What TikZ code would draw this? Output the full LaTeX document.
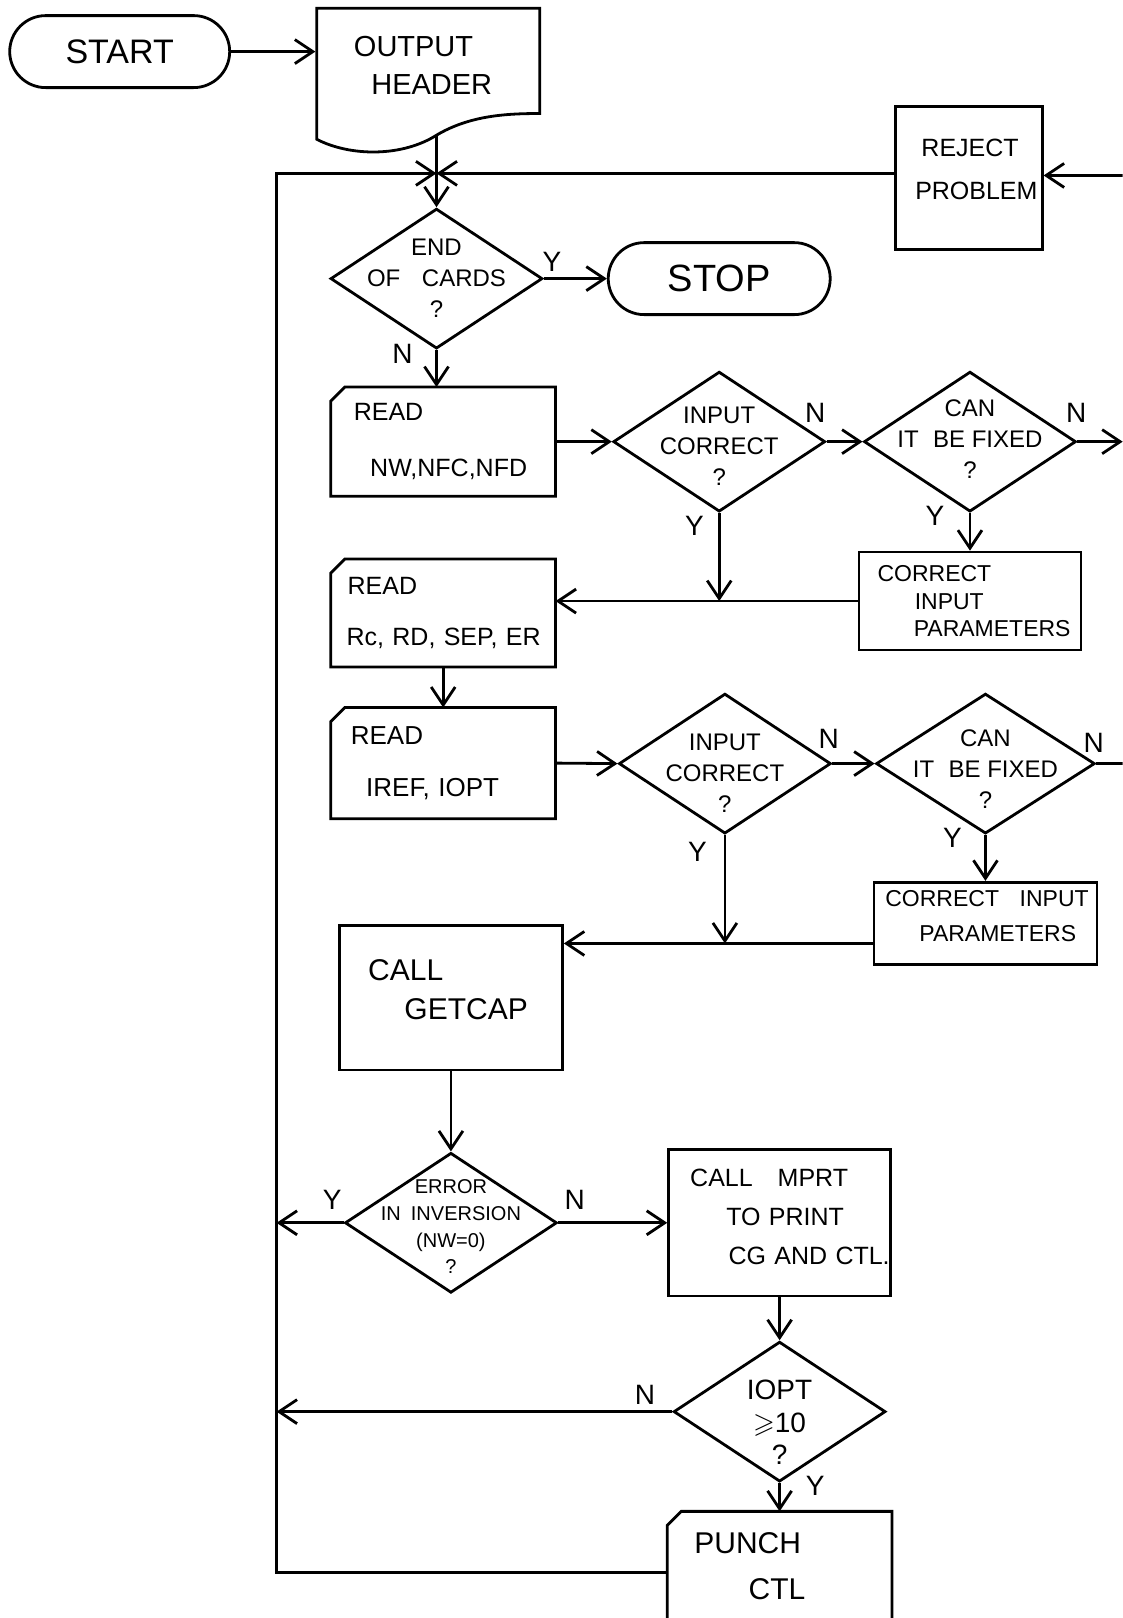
\documentclass[tikz,border=0pt]{standalone}
\usepackage{amssymb}
\usepackage{fontspec}
\setmainfont{Liberation Sans}
\usetikzlibrary{arrows.meta,shapes.geometric,shapes.misc}
\tikzset{>={Straight Barb[length=9pt,width=12pt]}}
\newcommand{\subir}[1]{\rule[-#1]{0pt}{#1}}

\begin{document}
\begin{tikzpicture}[x=0.516pt, y=-0.516pt, line width=1.4pt,
  terminal/.style={draw, rounded rectangle, minimum width=110pt, minimum height=36pt, inner sep=0pt},
  caja/.style={draw, rectangle, text width=#1, minimum width=#1, inner xsep=0pt, align=left},
  caja/.default=111pt,
  tarjeta/.style={caja=#1, draw=none},
  tarjeta/.default=111pt,
  decision/.style={draw, diamond, minimum width=106pt, minimum height=70pt, inner sep=0pt},
  dtexto/.style={align=center, inner sep=0pt, font=\fontsize{12}{15.5}\selectfont},
  etiq/.style={inner sep=0pt, font=\fontsize{14}{14}\selectfont}]

\useasboundingbox (0,0) rectangle (1088,1568);
\clip (0,0) rectangle (1088,1568);

% Inicio y cabecera
\node[terminal, font=\fontsize{17}{17}\selectfont] (inicio) at (116,50) {START};
\node[text width=111.5pt, inner xsep=0pt, align=left, font=\fontsize{14.5}{19}\selectfont]
  (cabecera) at (415,63.5) {\hspace*{18.6pt}OUTPUT\\\hspace*{27.3pt}HEADER};
\draw (307,135) -- (307,8) -- (523,8) -- (523,110)
  .. controls (490,110) and (455,112) .. (423,131)
  .. controls (390,152) and (340,152) .. (307,135) -- cycle;
\coordinate (cabsal) at (423,131);
\coordinate (union) at (423,168);
\coordinate (esqsup) at (268,168);
\coordinate (esqinf) at (268,1524);
\coordinate (der0) at (1088,170);
\coordinate (der1) at (1088,428);
\coordinate (der2) at (1088,740);

% Rechazo
\node[caja=73.3pt, minimum height=71.7pt, font=\fontsize{12.5}{21.7}\selectfont]
  (rechazo) at (939,172.5) {\hspace*{12.9pt}REJECT\\\hspace*{9.8pt}PROBLEM\subir{8.8pt}};

% Fin de tarjetas
\node[decision, label={[dtexto]center:END\\OF\hspace{0.9em}CARDS\\?}] (fin) at (423,270) {};
\node[terminal, minimum width=111pt, font=\fontsize{19}{19}\selectfont] (alto) at (697,270) {STOP};

% Primera lectura
\node[tarjeta, minimum height=53.2pt, font=\fontsize{12.5}{27.9}\selectfont]
  (leer1) at (429.5,428) {\hspace*{10.8pt}READ\\\hspace*{19pt}NW,NFC,NFD};
\node[decision, label={[dtexto, yshift=-2.3pt]center:INPUT\\CORRECT\\?}] (ok1) at (697,428) {};
\node[decision, label={[dtexto, yshift=1.5pt]center:CAN\\IT\hspace{0.6em}BE FIXED\\?}] (fijo1) at (940,428) {};
\node[caja, minimum height=49pt, font=\fontsize{11.5}{13.7}\selectfont]
  (corr1) at (940,582.5) {\hspace*{9.3pt}CORRECT\\\hspace*{27.9pt}INPUT\\\hspace*{27.4pt}PARAMETERS};

% Segunda y tercera lectura
\node[tarjeta, minimum height=52.6pt, font=\fontsize{12.5}{25.8}\selectfont]
  (leer2) at (429.5,594) {\hspace*{7.7pt}READ\\\hspace*{7.2pt}Rc, RD, SEP, ER};
\node[tarjeta, minimum height=54.2pt, font=\fontsize{13}{25.8}\selectfont]
  (leer3) at (429.5,739.5) {\hspace*{9.3pt}READ\\\hspace*{17pt}IREF, IOPT};
\node[decision, label={[dtexto, yshift=-4.6pt]center:INPUT\\CORRECT\\?}] (ok2) at (702.5,740) {};
\node[decision, minimum width=109.4pt, label={[dtexto, yshift=-2.8pt]center:CAN\\IT\hspace{0.6em}BE FIXED\\?}]
  (fijo2) at (955,740) {};
\node[caja=111.5pt, minimum height=41.3pt, font=\fontsize{11.5}{17.5}\selectfont]
  (corr2) at (955,895) {\hspace*{5.7pt}CORRECT\hspace{0.9em}INPUT\\\hspace*{22.7pt}PARAMETERS\subir{7.2pt}};

% Calculo e impresion
\node[caja=111.5pt, minimum height=72.2pt, font=\fontsize{15}{19.6}\selectfont]
  (getcap) at (437,967) {\hspace*{14.4pt}CALL\\\hspace*{32.5pt}GETCAP\subir{8.3pt}};
\node[decision, label={[dtexto, yshift=-2pt, font=\fontsize{10}{13.4}\selectfont]center:ERROR\\IN\hspace{0.5em}INVERSION\\(NW=0)\\?}]
  (error) at (437,1185) {};
\node[caja, minimum height=73.3pt, font=\fontsize{12.5}{19.6}\selectfont]
  (mprt) at (755.5,1185) {\hspace*{10.8pt}CALL\hspace{1em}MPRT\\\hspace*{28.9pt}TO PRINT\\\hspace*{30pt}CG AND CTL.\subir{6.2pt}};
\node[decision, label={[dtexto, yshift=-5.4pt, font=\fontsize{14}{16.3}\selectfont]center:IOPT\\$\geqslant$10\\?}]
  (iopt) at (755.5,1368) {};
\node[tarjeta, minimum height=57.8pt, font=\fontsize{15}{23.2}\selectfont]
  (punch) at (755.5,1522) {\hspace*{12.9pt}PUNCH\\\hspace*{40pt}CTL\subir{4.6pt}};

% Tarjetas con esquina cortada
\foreach \t in {leer1,leer2,leer3,punch}
  \draw ([xshift=7pt]\t.north west) -- (\t.north east) -- (\t.south east)
    -- (\t.south west) -- ([yshift=-7pt]\t.north west) -- cycle;

% Conectores
\draw[->] (inicio.east) -- (inicio.east -| cabecera.west);
\draw (cabsal) -- (union);
\draw[->] (union) -- (fin.north);
\draw[->] (punch.west |- esqinf) -- (esqinf) -- (esqsup) -- (union);
\draw[->] (rechazo.west |- union) -- (union);
\draw[->] (der0) -- (der0 -| rechazo.east);
\draw[->] (fin.east) -- (alto.west);
\draw[->] (fin.south) -- (fin.south |- leer1.north);
\draw[->] (leer1.east) -- (ok1.west);
\draw[->] (ok1.east) -- (fijo1.west);
\draw[->] (fijo1.east) -- (der1);
\draw[->] (fijo1.south) -- (corr1.north);
\coordinate (une1) at (ok1.south |- corr1.west);
\draw[->] (ok1.south) -- (une1);
\draw[->] (corr1.west) -- (corr1.west -| leer2.east);
\draw[->] (leer2.south) -- (leer3.north);
\draw[->] (leer3.east) -- (ok2.west);
\draw[->] (ok2.east) -- (fijo2.west);
\draw (fijo2.east) -- (der2);
\draw[->] (fijo2.south) -- (corr2.north);
\coordinate (une2) at (ok2.south |- corr2.190);
\draw[->] (ok2.south) -- (une2);
\draw[->] (corr2.190) -- (corr2.190 -| getcap.east);
\draw[->] (getcap.south) -- (error.north);
\draw[->] (error.west) -- (error.west -| esqsup);
\draw[->] (error.east) -- (mprt.west);
\draw[->] (mprt.south) -- (iopt.north);
\draw[->] (iopt.west) -- (iopt.west -| esqsup);
\draw[->] (iopt.south) -- (punch.north);

% Etiquetas Y / N
\foreach \nom/\x/\y/\t in {s1/535/254/Y, n1/390/343/N, n2/790/400/N, n3/1043/400/N,
  s2/673/510/Y, s3/906/500/Y, n4/803/716/N, n5/1060/720/N, s4/676/826/Y, s5/923/812/Y,
  s6/322/1163/Y, n6/557/1163/N, n7/625/1352/N, s7/790/1440/Y}
  \node[etiq] (\nom) at (\x,\y) {\t};

\end{tikzpicture}
\end{document}
